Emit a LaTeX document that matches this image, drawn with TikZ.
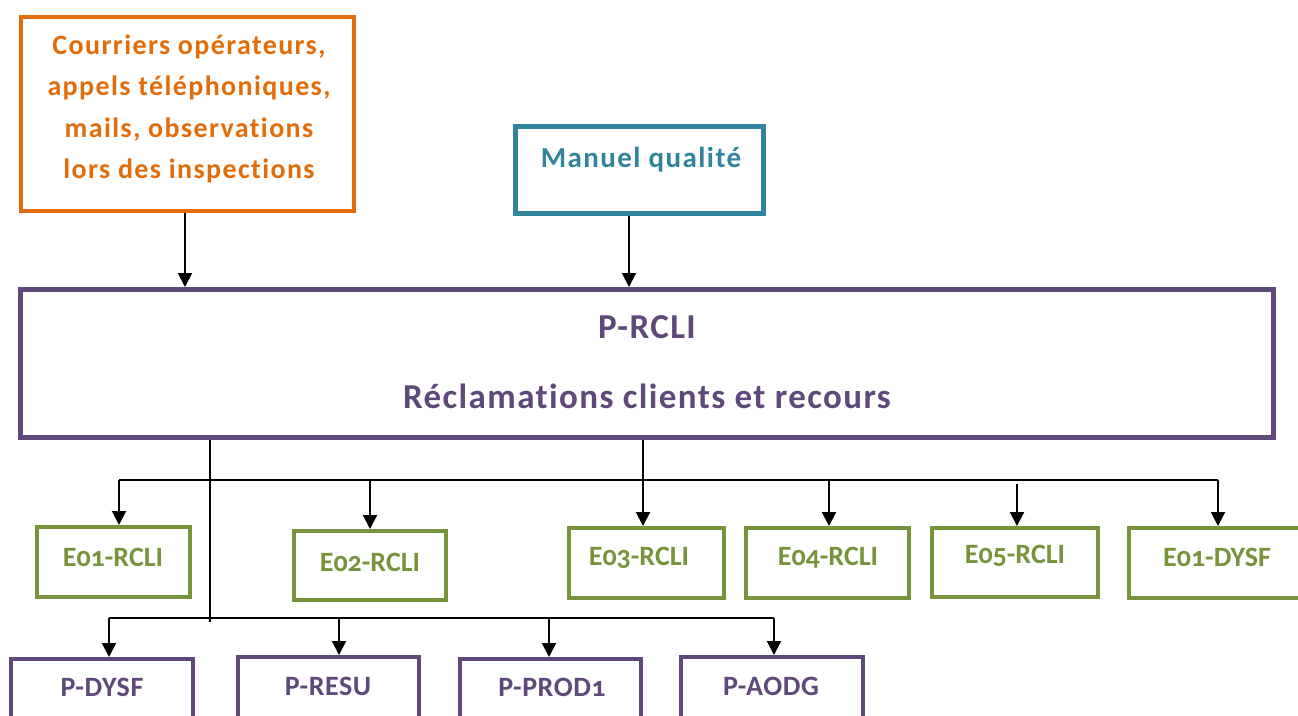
\documentclass[tikz,border=0pt]{standalone}
\usepackage{fontspec}
\setmainfont{Carlito}[Numbers=OldStyle,Ligatures=NoCommon]
\usetikzlibrary{arrows.meta,calc}
\definecolor{corange}{HTML}{E36C0A}
\definecolor{cteal}{HTML}{31849B}
\definecolor{cpurple}{HTML}{5F497A}
\definecolor{cgreen}{HTML}{77933C}
\tikzset{
  box/.style={draw, rectangle, inner sep=0pt, fill=white},
  obox/.style={box, draw=corange, line width=4pt},
  tbox/.style={box, draw=cteal, line width=5pt},
  pbig/.style={box, draw=cpurple, line width=5pt},
  ebox/.style={box, draw=cgreen, line width=4pt, minimum height=70pt},
  pbox/.style={box, draw=cpurple, line width=4pt, minimum height=70pt, minimum width=182pt},
  txt/.style={inner sep=0pt, font=\bfseries\fontsize{28pt}{32pt}\selectfont},
  etxt/.style={txt, text=cgreen},
  ptxt/.style={txt, text=cpurple, font=\bfseries\fontsize{28pt}{32pt}\selectfont\addfontfeatures{LetterSpace=2}},
  bigtxt/.style={txt, text=cpurple, font=\bfseries\fontsize{35pt}{40pt}\selectfont\addfontfeatures{LetterSpace=4}},
  arr/.style={line width=2pt, -{Triangle[length=14pt,width=14pt]}},
  ln/.style={line width=2pt}
}
\begin{document}
\begin{tikzpicture}[x=1pt,y=-1pt]
\useasboundingbox (0,0) rectangle (1298,715);
\begin{scope}
\clip (0,0) rectangle (1298,715);
% top boxes
\node[obox, minimum width=333pt, minimum height=194pt] (src) at (187.5,114) {};
\node[txt, text=corange, align=center, font=\bfseries\fontsize{28pt}{41.3pt}\selectfont\addfontfeatures{LetterSpace=5}] (srct) at (189,109)
  {Courriers opérateurs,\\appels téléphoniques,\\mails, observations\\lors des inspections};
\node[tbox, minimum width=248pt, minimum height=87pt] (mq) at (639.5,170) {};
\node[txt, text=cteal, font=\bfseries\fontsize{29pt}{32pt}\selectfont\addfontfeatures{LetterSpace=5}] (mqt) at (641,160) {Manuel qualité};
% main box
\node[pbig, minimum width=1253pt, minimum height=148pt] (rc) at (647,363.5) {};
\node[bigtxt] (rct1) at (647,327) {P-RCLI};
\node[bigtxt] (rct2) at (647,396) {Réclamations clients et recours};
% E boxes
\node[ebox, minimum width=153pt] (e1) at (113.5,562) {};
\node[etxt] at (113,557) {E01-RCLI};
\node[ebox, minimum width=152pt, minimum height=69pt] (e2) at (370,565.5) {};
\node[etxt] at (370,562) {E02-RCLI};
\node[ebox, minimum width=155pt] (e3) at (646.5,563) {};
\node[etxt] at (639,558) {E03-RCLI};
\node[ebox, minimum width=163pt] (e4) at (827.5,563) {};
\node[etxt] at (828,558) {E04-RCLI};
\node[ebox, minimum width=166pt, minimum height=69pt] (e5) at (1015,562.5) {};
\node[etxt] at (1015,556) {E05-RCLI};
\node[ebox, minimum width=180pt] (e6) at (1219,563) {};
\node[etxt] at (1217,557) {E01-DYSF};
% P boxes
\node[pbox] (p1) at (102,694) {};
\node[ptxt] at (102,687) {P-DYSF};
\node[pbox, minimum width=181pt] (p2) at (328.5,692) {};
\node[ptxt] at (328,686) {P-RESU};
\node[pbox, minimum width=181pt] (p3) at (550.5,694) {};
\node[ptxt] at (552,687) {P-PROD1};
\node[pbox] (p4) at (772,692) {};
\node[ptxt] at (771,686) {P-AODG};
\end{scope}
% connectors
\draw[arr] (185,0 |- src.south) -- (185,0 |- rc.north);
\draw[arr] (629,0 |- mq.south) -- (629,0 |- rc.north);
\coordinate (busE) at (0,480);
\coordinate (busP) at (0,618);
\coordinate (endP) at (210,622);
\draw[arr] (643,0 |- rc.south) -- (643,0 |- e3.north);
\draw[ln] (119,0 |- busE) -- (1218,0 |- busE);
\draw[arr] (119,0 |- busE) -- (119,0 |- e1.north);
\draw[arr] (370,0 |- busE) -- (370,0 |- e2.north);
\draw[arr] (829,0 |- busE) -- (829,0 |- e4.north);
\draw[arr] (1017,484) -- (1017,0 |- e5.north);
\draw[arr] (1218,0 |- busE) -- (1218,0 |- e6.north);
\draw[ln] (210,0 |- rc.south) -- (endP);
\draw[ln] (109,0 |- busP) -- (774,0 |- busP);
\draw[arr] (109,0 |- busP) -- (109,0 |- p1.north);
\draw[arr] (339,0 |- busP) -- (339,0 |- p2.north);
\draw[arr] (549,0 |- busP) -- (549,0 |- p3.north);
\draw[arr] (774,0 |- busP) -- (774,0 |- p4.north);
\end{tikzpicture}
\end{document}
